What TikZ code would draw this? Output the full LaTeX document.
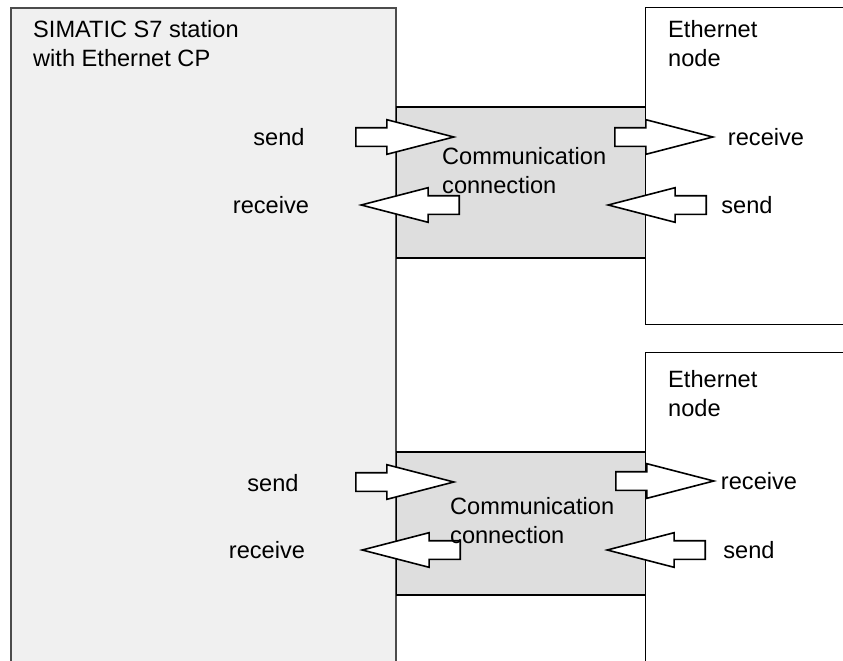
\documentclass[tikz,border=0pt]{standalone}
\usepackage{fontspec}
\setmainfont{Liberation Sans}
\usetikzlibrary{shapes.arrows}
\definecolor{stationgray}{HTML}{F0F0F0}
\definecolor{conngray}{HTML}{DEDEDE}
\begin{document}
\begin{tikzpicture}[x=1pt,y=-1pt, every node/.style={font=\fontsize{23.6}{29.5}\selectfont, inner sep=0pt},
  blockarr/.style={single arrow, draw, fill=white, line width=1.6pt, minimum height=98, anchor=tail,
    inner xsep=0pt, inner ysep=8.5pt, single arrow head extend=8, single arrow tip angle=29},
  backarr/.style={blockarr, shape border rotate=180}]
\useasboundingbox (0,0) rectangle (843,661);
% station and partner nodes
\fill[stationgray] (11,8) rectangle (396,661);
\draw[line width=1.2pt,black!70] (11,661) -- (11,8) -- (396,8) -- (396,661);
\draw[line width=1pt] (843,8) -- (645,8) -- (645,324) -- (843,324);
\draw[line width=1pt] (843,352) -- (645,352) -- (645,661);
% connections
\fill[conngray] (396,107) rectangle (645,258);
\draw[line width=1.8pt] (396,107) -- (645,107) (396,258) -- (645,258);
\fill[conngray] (396,452) rectangle (645,595);
\draw[line width=1.8pt] (396,452) -- (645,452) (396,595) -- (645,595);
\draw[line width=0.8pt] (396,107) -- (396,258) (645,107) -- (645,258);
\draw[line width=0.8pt] (396,452) -- (396,595) (645,452) -- (645,595);
% arrows (placed at their tails)
\node[blockarr] (s1) at (355,137) {};
\node[backarr] (r1) at (460,205) {};
\node[blockarr] (er1) at (614,137) {};
\node[backarr] (es1) at (707,205) {};
\node[blockarr] (s2) at (355,482) {};
\node[backarr] (r2) at (461,550) {};
\node[blockarr] (er2) at (615,481) {};
\node[backarr] (es2) at (706,550) {};
% texts
\node[anchor=north west,align=left] (st) at (33,20) {SIMATIC S7 station\\with Ethernet CP};
\node[anchor=north west,align=left] (en1) at (668,20) {Ethernet\\node};
\node[anchor=north west,align=left] (en2) at (668,370) {Ethernet\\node};
\node[anchor=north west,align=left] (cc1) at (442,147) {Communication\\connection};
\node[anchor=north west,align=left] (cc2) at (450,497) {Communication\\connection};
\node (ls1) at (279,137) {send};
\node (lr1) at (271,205) {receive};
\node (rr1) at (766,137) {receive};
\node (rs1) at (747,205) {send};
\node (ls2) at (273,483) {send};
\node (lr2) at (267,550) {receive};
\node (rr2) at (759,481) {receive};
\node (rs2) at (749,550) {send};
\end{tikzpicture}
\end{document}
